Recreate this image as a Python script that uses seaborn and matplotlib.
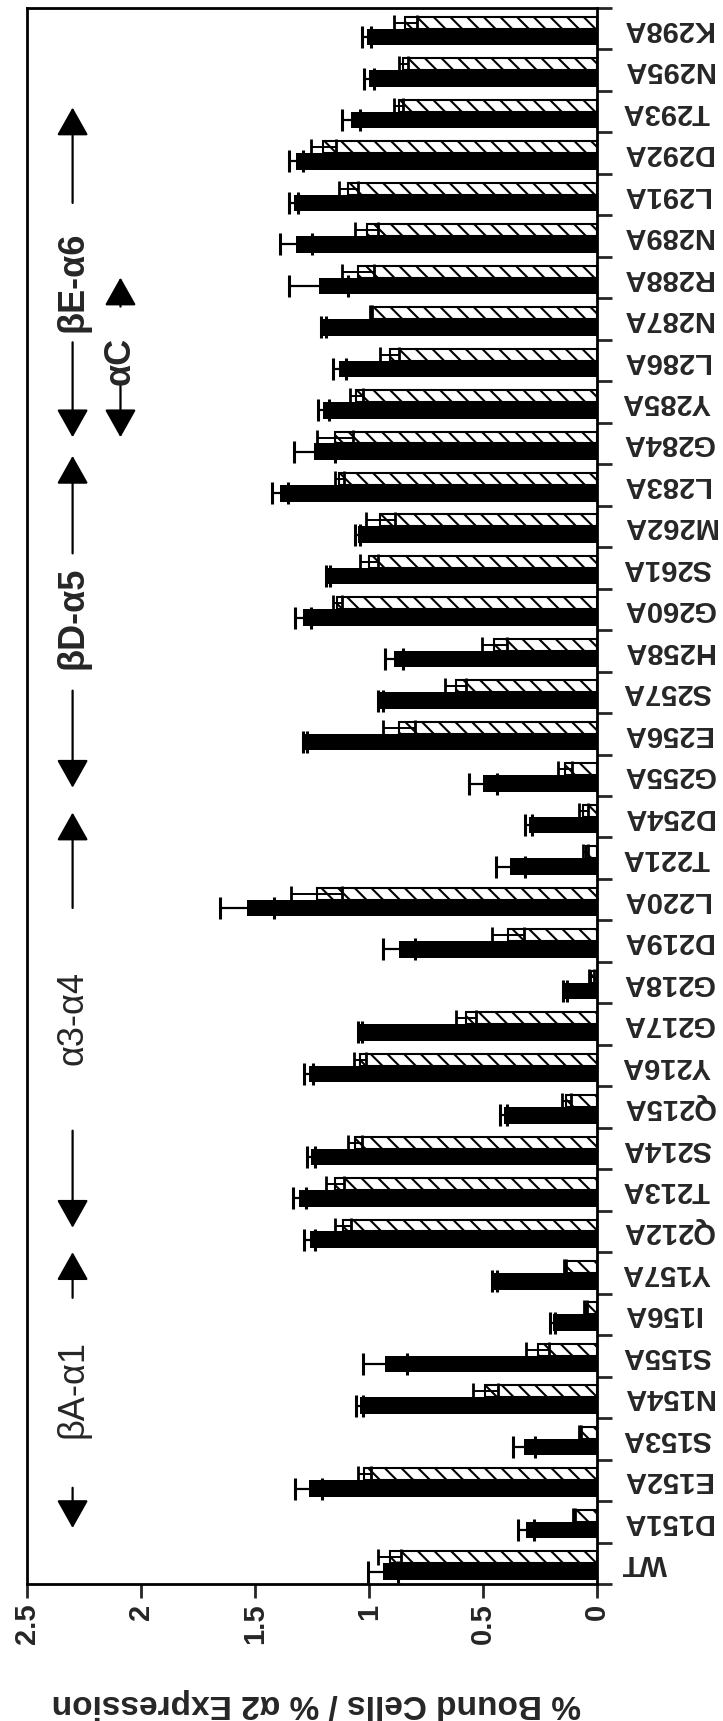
import numpy as np
import pandas as pd
import matplotlib
matplotlib.use("Agg")
import matplotlib.pyplot as plt
import seaborn as sns

# ---------------- data (bottom -> top in the picture) ----------------
categories = ["WT", "D151A", "E152A", "S153A", "N154A", "S155A", "I156A", "Y157A",
              "Q212A", "T213A", "S214A", "Q215A", "Y216A", "G217A", "G218A", "D219A",
              "L220A", "T221A", "D254A", "G255A", "E256A", "S257A", "H258A", "G260A",
              "S261A", "M262A", "L283A", "G284A", "Y285A", "L286A", "N287A", "R288A",
              "N289A", "L291A", "D292A", "T293A", "N295A", "K298A"]

solid_vals = [0.94, 0.31, 1.265, 0.32, 1.04, 0.93, 0.195, 0.45,
              1.26, 1.305, 1.255, 0.41, 1.265, 1.04, 0.14, 0.87,
              1.535, 0.38, 0.30, 0.50, 1.28, 0.95, 0.89, 1.29,
              1.18, 1.05, 1.39, 1.24, 1.20, 1.13, 1.20, 1.22,
              1.32, 1.33, 1.32, 1.08, 1.00, 1.01]
solid_err = [0.065, 0.035, 0.06, 0.05, 0.015, 0.095, 0.01, 0.01,
             0.025, 0.03, 0.018, 0.015, 0.02, 0.01, 0.01, 0.07,
             0.12, 0.065, 0.015, 0.06, 0.01, 0.01, 0.04, 0.035,
             0.01, 0.01, 0.035, 0.09, 0.025, 0.03, 0.01, 0.13,
             0.07, 0.02, 0.03, 0.04, 0.02, 0.02]

hatched_vals = [0.91, 0.10, 1.02, 0.075, 0.49, 0.26, 0.05, 0.14,
                1.115, 1.15, 1.06, 0.135, 1.04, 0.575, 0.025, 0.39,
                1.23, 0.05, 0.06, 0.14, 0.87, 0.62, 0.45, 1.14,
                1.00, 0.95, 1.13, 1.15, 1.055, 0.91, 0.99, 1.05,
                1.01, 1.09, 1.20, 0.87, 0.85, 0.84]
hatched_err = [0.05, 0.005, 0.03, 0.005, 0.055, 0.05, 0.005, 0.005,
               0.035, 0.04, 0.03, 0.02, 0.025, 0.045, 0.01, 0.07,
               0.11, 0.01, 0.02, 0.03, 0.07, 0.045, 0.055, 0.02,
               0.04, 0.065, 0.02, 0.08, 0.03, 0.04, 0.005, 0.07,
               0.05, 0.04, 0.055, 0.02, 0.02, 0.05]

series_names = ["solid", "hatched"]
value_ticks = [0, 0.5, 1, 1.5, 2, 2.5]
value_tick_labels = ["0", "0.5", "1", "1.5", "2", "2.5"]
value_label = "% Bound Cells / % \u03b12 Expression"

region_labels = ["\u03b2A-\u03b11", "\u03b13-\u03b14", "\u03b2D-\u03b15", "\u03b2E-\u03b16", "\u03b1C"]

# ---------------- layout constants ----------------
# (text position along category axis, lower arrow start/end, upper arrow start/end, value-axis x, bold)
region_layout = [
    (4.2, (1.82, 0.85), (6.4, 7.5), 2.30, False),
    (13.15, (10.43, 8.09), (15.8, 18.1), 2.30, False),
    (22.8, (21.04, 18.7), (24.35, 26.7), 2.30, True),
    (30.9, (29.44, 27.15), (32.8, 35.1), 2.30, True),
    (29.0, (28.4, 27.15), (30.3, 31.0), 2.09, True),
]

sns.set_theme(style="white")
plt.rcParams["font.family"] = ["Liberation Sans", "DejaVu Sans"]
plt.rcParams["hatch.linewidth"] = 1.5

df = pd.DataFrame({
    "category": categories * 2,
    "series": [series_names[0]] * len(categories) + [series_names[1]] * len(categories),
    "value": solid_vals + hatched_vals,
})

fig = plt.figure(figsize=(7.23, 17.21), dpi=100)
ax = fig.add_axes([27 / 723, 1 - 1584 / 1721, (597 - 27) / 723, (1584 - 8) / 1721])

sns.barplot(data=df, y="category", x="value", hue="series", order=categories,
            hue_order=series_names, palette=["black", "white"], orient="h",
            width=0.8, dodge=True, errorbar=None, saturation=1, legend=False, ax=ax)

ax.set_ylim(-0.5, len(categories) - 0.5)
ax.set_xlim(2.5, 0)

solid_y, hatched_y = {}, {}
for p in ax.patches:
    fc = p.get_facecolor()
    yc = p.get_y() + p.get_height() / 2
    idx = int(round(yc))
    if fc[0] < 0.5:
        p.set_edgecolor("none")
        p.set_linewidth(0)
        solid_y[idx] = yc
    else:
        bottom = p.get_y()
        p.set_height(p.get_height() * 0.72)
        p.set_y(bottom)
        p.set_facecolor("white")
        p.set_edgecolor("black")
        p.set_linewidth(1.5)
        p.set_hatch("\\\\")
        hatched_y[idx] = bottom + p.get_height() / 2

n = len(categories)
ys_solid = [solid_y[i] for i in range(n)]
ys_hatch = [hatched_y[i] for i in range(n)]
ax.errorbar(solid_vals, ys_solid, xerr=solid_err, fmt="none", ecolor="black",
            elinewidth=1.6, capsize=8, capthick=2.2, zorder=4)
ax.errorbar(hatched_vals, ys_hatch, xerr=hatched_err, fmt="none", ecolor="black",
            elinewidth=1.4, capsize=6, capthick=2.0, zorder=4)

# value axis (horizontal, increasing to the left)
ax.set_xticks(value_ticks)
ax.set_xticklabels(value_tick_labels, rotation=90, fontsize=21, fontweight="bold",
                   va="top", ha="center")
ax.tick_params(axis="x", direction="out", length=10, width=2, pad=4, bottom=True)
ax.set_xlabel(value_label, fontsize=24, fontweight="bold", rotation=180)
ax.xaxis.set_label_coords(0.507, -0.066)
ax.xaxis.label.set_va("top")

# category axis (right side, labels upside down)
ax.set_ylabel("")
ax.yaxis.tick_right()
ax.set_yticks(range(n))
ax.set_yticklabels(categories)
ax.set_yticks(np.arange(-0.5, n, 1.0), minor=True)
ax.tick_params(axis="y", which="major", length=0, pad=18, right=True, left=False,
               labelright=True, labelleft=False)
ax.tick_params(axis="y", which="minor", direction="out", length=11, width=2,
               right=True, left=False)
for lab in ax.get_yticklabels():
    lab.set_rotation(180)
    lab.set_fontsize(21)
    lab.set_fontweight("bold")
    lab.set_va("center")
    lab.set_ha("left")

for s in ax.spines.values():
    s.set_visible(True)
    s.set_linewidth(2)
    s.set_color("black")

# region annotations with arrows
arrow_style = "-|>,head_length=0.8,head_width=0.45"
for label, (td, lower, upper, xv, bold) in zip(region_labels, region_layout):
    ax.text(xv, td, label, rotation=90, ha="center", va="center", fontsize=26,
            fontweight="bold" if bold else "normal", zorder=5)
    for start, end in (lower, upper):
        ax.annotate("", xy=(xv, end), xytext=(xv, start),
                    arrowprops=dict(arrowstyle=arrow_style, mutation_scale=22,
                                    color="black", lw=1.6, shrinkA=0, shrinkB=0))

fig.savefig("out.png", dpi=100)
